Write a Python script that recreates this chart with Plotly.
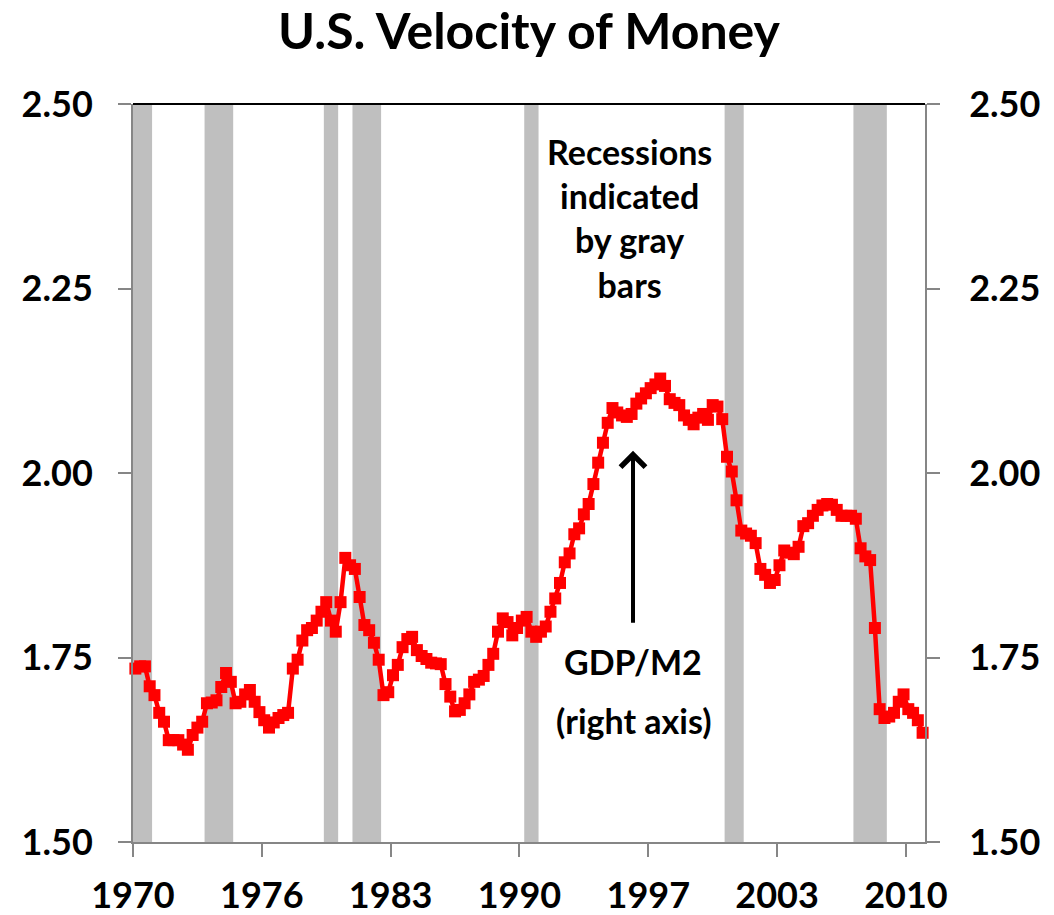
import plotly.graph_objects as go

# GDP/M2, quarterly, 1970Q1 .. 2011Q2
start_year = 1970
gdp_m2 = [
    1.735, 1.738, 1.738, 1.711,  # 1970
    1.699, 1.675, 1.663, 1.638,  # 1971
    1.638, 1.638, 1.632, 1.625,  # 1972
    1.645, 1.655, 1.663, 1.688,  # 1973
    1.689, 1.692, 1.710, 1.729,  # 1974
    1.717, 1.688, 1.690, 1.700,  # 1975
    1.706, 1.690, 1.676, 1.665,  # 1976
    1.655, 1.662, 1.668, 1.672,  # 1977
    1.675, 1.735, 1.747, 1.773,  # 1978
    1.787, 1.790, 1.800, 1.812,  # 1979
    1.825, 1.800, 1.785, 1.825,  # 1980
    1.885, 1.875, 1.870, 1.832,  # 1981
    1.794, 1.787, 1.770, 1.747,  # 1982
    1.699, 1.703, 1.726, 1.740,  # 1983
    1.764, 1.775, 1.778, 1.760,  # 1984
    1.752, 1.748, 1.743, 1.742,  # 1985
    1.741, 1.714, 1.697, 1.677,  # 1986
    1.679, 1.688, 1.700, 1.717,  # 1987
    1.720, 1.725, 1.740, 1.755,  # 1988
    1.785, 1.803, 1.798, 1.780,  # 1989
    1.790, 1.800, 1.805, 1.785,  # 1990
    1.778, 1.785, 1.792, 1.812,  # 1991
    1.830, 1.851, 1.879, 1.891,  # 1992
    1.917, 1.925, 1.944, 1.958,  # 1993
    1.985, 2.014, 2.041, 2.068,  # 1994
    2.088, 2.082, 2.078, 2.076,  # 1995
    2.080, 2.094, 2.101, 2.108,  # 1996
    2.115, 2.120, 2.128, 2.118,  # 1997
    2.100, 2.095, 2.092, 2.078,  # 1998
    2.072, 2.066, 2.075, 2.080,  # 1999
    2.072, 2.092, 2.090, 2.073,  # 2000
    2.022, 2.002, 1.963, 1.922,  # 2001
    1.918, 1.915, 1.905, 1.870,  # 2002
    1.862, 1.851, 1.855, 1.875,  # 2003
    1.895, 1.892, 1.890, 1.900,  # 2004
    1.928, 1.932, 1.942, 1.950,  # 2005
    1.956, 1.958, 1.957, 1.950,  # 2006
    1.942, 1.942, 1.942, 1.938,  # 2007
    1.898, 1.887, 1.882, 1.790,  # 2008
    1.680, 1.668, 1.670, 1.675,  # 2009
    1.690, 1.700, 1.680, 1.675,  # 2010
    1.665, 1.648,                # 2011
]

# NBER recessions, first and last quarter shaded
rec_start = ["1970Q1", "1973Q4", "1980Q1", "1981Q3", "1990Q3", "2001Q1", "2007Q4"]
rec_end = ["1970Q4", "1975Q1", "1980Q3", "1982Q4", "1991Q1", "2001Q4", "2009Q2"]

# category axis labelled every 27 quarters
tick_every = 27
tick_labels = ["1970", "1976", "1983", "1990", "1997", "2003", "2010"]

y_ticks = [1.50, 1.75, 2.00, 2.25, 2.50]


def q_start(s):
    year, q = s.split("Q")
    return int(year) + (int(q) - 1) / 4


# each quarter drawn at the middle of its slot
x = [start_year + i / 4 + 0.125 for i in range(len(gdp_m2))]
tick_vals = [start_year + k * tick_every / 4 for k in range(len(tick_labels))]
x_end = start_year + len(gdp_m2) / 4

FONT = "Lato, 'Open Sans', sans-serif"
AXIS = "#868686"

fig = go.Figure()

for a, b in zip(rec_start, rec_end):
    fig.add_vrect(
        x0=q_start(a), x1=q_start(b) + 0.25,
        fillcolor="#BFBFBF", line_width=0, layer="below",
    )

fig.add_trace(
    go.Scatter(
        x=x,
        y=gdp_m2,
        yaxis="y2",
        mode="lines+markers",
        name="GDP/M2",
        line={"color": "#FF0000", "width": 4.5},
        marker={"symbol": "square", "size": 12, "color": "#FF0000"},
        showlegend=False,
        cliponaxis=False,
    )
)

# top border of the plot
fig.add_shape(type="line", xref="paper", yref="paper", x0=0, x1=1, y0=1, y1=1,
              line={"color": "black", "width": 2})

label_font = {"family": FONT, "size": 34, "color": "black", "weight": "bold"}
fig.add_annotation(
    x=1996.0, y=2.346, xref="x", yref="y",
    text="Recessions<br>indicated<br>by gray<br>bars",
    showarrow=False, font=label_font,
)
fig.add_annotation(x=1996.2, y=1.744, xref="x", yref="y", text="GDP/M2",
                   showarrow=False, font=label_font)
fig.add_annotation(x=1996.2, y=1.665, xref="x", yref="y", text="(right axis)",
                   showarrow=False, font=label_font)
fig.add_annotation(
    x=1996.2, y=2.03, xref="x", yref="y",
    ax=1996.2, ay=1.795, axref="x", ayref="y",
    text="", showarrow=True, arrowhead=4, arrowsize=1.2, arrowwidth=4, arrowcolor="black",
)

tickfont = {"family": FONT, "size": 36, "color": "black", "weight": "bold"}
yax = dict(
    range=[1.5, 2.5], tickvals=y_ticks, tickformat=".2f",
    ticks="outside", ticklen=13, tickwidth=2, tickcolor=AXIS,
    showline=True, linecolor=AXIS, linewidth=2, automargin=False,
    showgrid=False, zeroline=False, tickfont=tickfont, ticklabelstandoff=18,
)

# the page body shifts the figure 8px right and down, so it is 8px smaller
fig.update_layout(
    width=1046,
    height=907,
    title={
        "text": "U.S. Velocity of Money",
        "x": 0.5, "xref": "paper", "xanchor": "center",
        "y": 0.974, "yanchor": "middle",
        "font": {"family": FONT, "size": 50, "color": "black", "weight": "bold"},
    },
    margin={"l": 125, "r": 129, "t": 96, "b": 73, "autoexpand": False},
    plot_bgcolor="white",
    paper_bgcolor="white",
    xaxis=dict(
        range=[start_year, x_end], tickvals=tick_vals, ticktext=tick_labels,
        ticks="outside", ticklen=13, tickwidth=2, tickcolor=AXIS,
        showline=True, linecolor=AXIS, linewidth=2, automargin=False,
        showgrid=False, zeroline=False, tickfont=tickfont, ticklabelstandoff=8,
    ),
    yaxis=yax,
    yaxis2=dict(yax, overlaying="y", side="right", ticklabelstandoff=22),
)

fig.write_html("out.html")
